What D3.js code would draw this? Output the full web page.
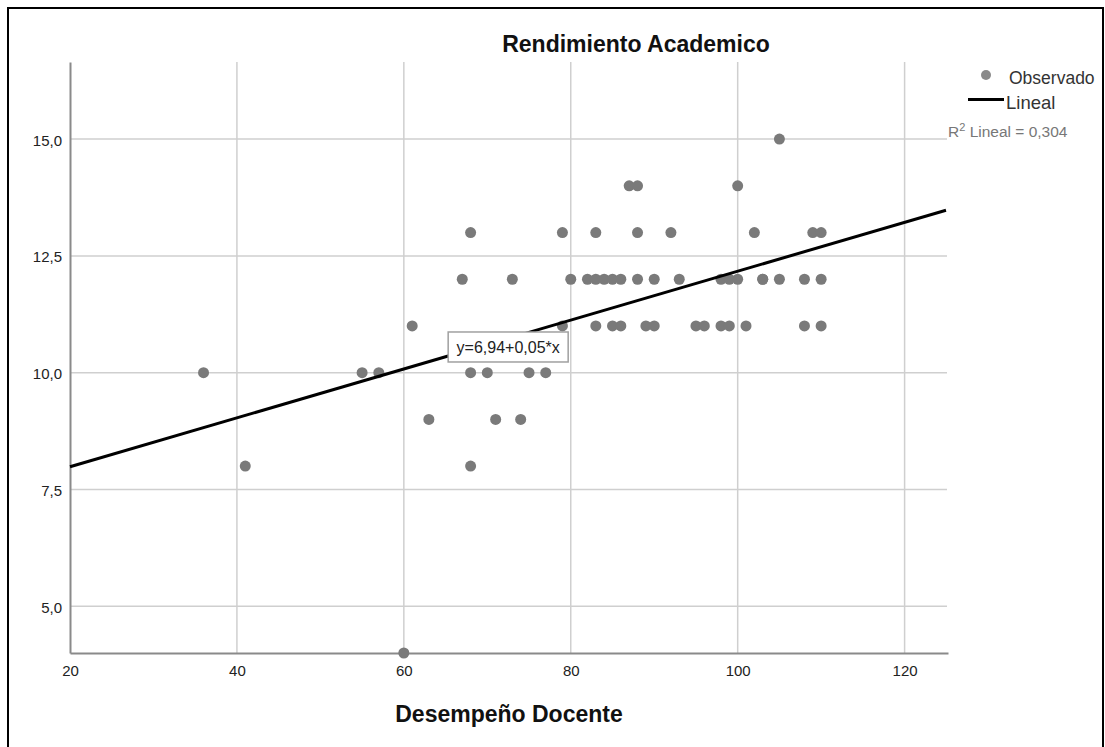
<!DOCTYPE html>
<html>
<head>
<meta charset="utf-8">
<script src="https://cdn.jsdelivr.net/npm/d3@7"></script>
<style>
  body { margin: 0; background: #fff; }
  text { font-family: "Liberation Sans", Arial, sans-serif; }
</style>
</head>
<body>
<div id="chart"></div>
<script>
// Desempeño Docente (x) and Rendimiento Academico (y), one entry per student
const desempeno = [
  60,
  41, 68,
  63, 71, 74,
  36, 55, 57, 68, 70, 75, 77,
  61, 79, 83, 85, 86, 89, 90, 95, 96, 98, 99, 101, 108, 110,
  67, 73, 80, 82, 83, 84, 85, 86, 88, 90, 93, 98, 99, 100, 103, 103, 105, 108, 110,
  68, 79, 83, 88, 92, 102, 109, 110,
  87, 88, 100,
  105
];
const rendimiento = [
  4,
  8, 8,
  9, 9, 9,
  10, 10, 10, 10, 10, 10, 10,
  11, 11, 11, 11, 11, 11, 11, 11, 11, 11, 11, 11, 11, 11,
  12, 12, 12, 12, 12, 12, 12, 12, 12, 12, 12, 12, 12, 12, 12, 12, 12, 12, 12,
  13, 13, 13, 13, 13, 13, 13, 13,
  14, 14, 14,
  15
];
const xTicks = [20, 40, 60, 80, 100, 120];
const yTicks = [5, 7.5, 10, 12.5, 15];
const intercept = 6.94;
const slope = 0.0523;

const width = 1105;
const height = 747;
const margin = { top: 62, right: 157, bottom: 94, left: 70 };

const svg = d3.select("#chart")
  .append("svg")
  .attr("width", width)
  .attr("height", height);

// outer frame
svg.append("rect")
  .attr("x", 8).attr("y", 8)
  .attr("width", 1095).attr("height", 760)
  .attr("fill", "none")
  .attr("stroke", "#000")
  .attr("stroke-width", 2);

const x = d3.scaleLinear()
  .domain([20, 125.2])
  .range([margin.left, width - margin.right]);

const y = d3.scaleLinear()
  .domain([4, 16.65])
  .range([height - margin.bottom, margin.top]);

// grid
svg.selectAll(".vgrid")
  .data(xTicks.slice(1))
  .enter().append("line")
  .attr("x1", d => x(d)).attr("x2", d => x(d))
  .attr("y1", y(16.65)).attr("y2", y(4))
  .attr("stroke", "#cfcfcf")
  .attr("stroke-width", 1.5);

svg.selectAll(".hgrid")
  .data(yTicks)
  .enter().append("line")
  .attr("x1", x(20)).attr("x2", x(125.2) - 1)
  .attr("y1", d => y(d)).attr("y2", d => y(d))
  .attr("stroke", "#cfcfcf")
  .attr("stroke-width", 1.5);

// axes
const xAxis = d3.axisBottom(x)
  .tickValues(xTicks)
  .tickSize(0)
  .tickPadding(12)
  .tickFormat(d3.format("d"));

const yAxis = d3.axisLeft(y)
  .tickValues(yTicks)
  .tickSize(0)
  .tickPadding(8)
  .tickFormat(d => d3.format(".1f")(d).replace(".", ","));

const gx = svg.append("g")
  .attr("transform", `translate(0,${y(4)})`)
  .call(xAxis);
const gy = svg.append("g")
  .attr("transform", `translate(${x(20)},0)`)
  .call(yAxis);

[gx, gy].forEach(g => {
  g.select(".domain").attr("stroke", "#8a8a8a").attr("stroke-width", 2);
  g.selectAll("text")
    .attr("font-size", 15)
    .attr("fill", "#222");
});
gy.selectAll("text").attr("dy", "0.4em");

// points
svg.selectAll(".pt")
  .data(desempeno)
  .enter().append("circle")
  .attr("cx", d => x(d))
  .attr("cy", (d, i) => y(rendimiento[i]))
  .attr("r", 5.5)
  .attr("fill", "#7a7a7a");

// fit line
svg.append("line")
  .attr("x1", x(20)).attr("y1", y(intercept + slope * 20))
  .attr("x2", x(125.2) - 2).attr("y2", y(intercept + slope * 125))
  .attr("stroke", "#000")
  .attr("stroke-width", 3);

// equation label
const eq = svg.append("g").attr("transform", `translate(${x(72.5)},${y(10.55)})`);
eq.append("rect")
  .attr("x", -60).attr("y", -15)
  .attr("width", 120).attr("height", 30)
  .attr("fill", "#fff")
  .attr("stroke", "#a0a0a0")
  .attr("stroke-width", 1.5);
eq.append("text")
  .attr("text-anchor", "middle")
  .attr("y", 6)
  .attr("font-size", 16)
  .attr("fill", "#222")
  .text("y=6,94+0,05*x");

// titles
svg.append("text")
  .attr("x", 636).attr("y", 52)
  .attr("text-anchor", "middle")
  .attr("font-size", 23)
  .attr("font-weight", "bold")
  .attr("fill", "#111")
  .text("Rendimiento Academico");

svg.append("text")
  .attr("x", (x(20) + x(125.2)) / 2).attr("y", 722)
  .attr("text-anchor", "middle")
  .attr("font-size", 23)
  .attr("font-weight", "bold")
  .attr("fill", "#111")
  .text("Desempeño Docente");

// legend
svg.append("circle")
  .attr("cx", 986).attr("cy", 75)
  .attr("r", 5)
  .attr("fill", "#8a8a8a");
svg.append("text")
  .attr("x", 1009).attr("y", 84)
  .attr("font-size", 17.5)
  .attr("fill", "#333")
  .text("Observado");
svg.append("line")
  .attr("x1", 968).attr("x2", 1004)
  .attr("y1", 99.5).attr("y2", 99.5)
  .attr("stroke", "#000")
  .attr("stroke-width", 3);
svg.append("text")
  .attr("x", 1006).attr("y", 109)
  .attr("font-size", 18.5)
  .attr("fill", "#333")
  .text("Lineal");

const r2 = svg.append("text")
  .attr("x", 948).attr("y", 137)
  .attr("font-size", 15.5)
  .attr("fill", "#777");
r2.append("tspan").text("R");
r2.append("tspan").attr("dy", -6).attr("font-size", 11).text("2");
r2.append("tspan").attr("dy", 6).text(" Lineal = 0,304");
</script>
</body>
</html>
